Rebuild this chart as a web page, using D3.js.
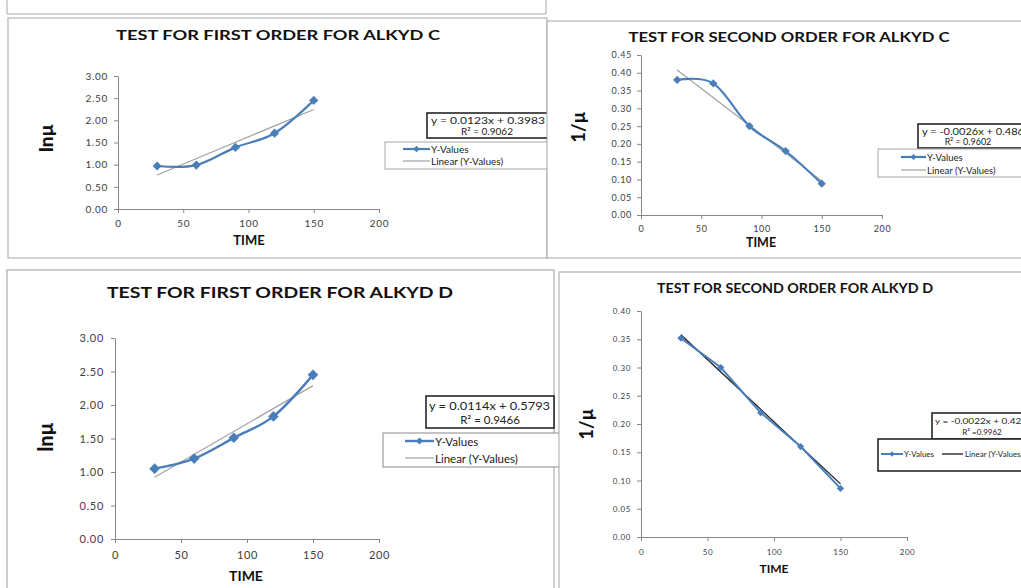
<!DOCTYPE html>
<html><head><meta charset="utf-8">
<script src="https://cdn.jsdelivr.net/npm/d3@7"></script>
<style>body{margin:0;background:#fff}svg{display:block}text{font-family:Lato,"Open Sans",sans-serif}</style>
</head><body>
<svg id="c" width="1021" height="588"></svg>
<script>
// ---- data ----
const timeValues = [30, 60, 90, 120, 150];
const xTicks = [0, 50, 100, 150, 200];
const alkydCFirst = [0.97, 0.99, 1.39, 1.71, 2.45];
const alkydCSecond = [0.38, 0.37, 0.25, 0.18, 0.088];
const alkydDFirst = [1.05, 1.20, 1.51, 1.83, 2.45];
const alkydDSecond = [0.352, 0.30, 0.22, 0.16, 0.086];
const firstOrderTicks = [0, 0.5, 1.0, 1.5, 2.0, 2.5, 3.0];
const secondOrderCTicks = [0, 0.05, 0.10, 0.15, 0.20, 0.25, 0.30, 0.35, 0.40, 0.45];
const secondOrderDTicks = [0, 0.05, 0.10, 0.15, 0.20, 0.25, 0.30, 0.35, 0.40];
const trendC1 = [0.0123, 0.3983]; // slope, intercept
const trendC2 = [-0.0026, 0.486];
const trendD1 = [0.0114, 0.5793];
const trendD2 = [-0.0022, 0.424];
const titles = ["TEST FOR FIRST ORDER FOR ALKYD C", "TEST FOR SECOND ORDER FOR ALKYD C",
                "TEST FOR FIRST ORDER FOR ALKYD D", "TEST FOR SECOND ORDER FOR ALKYD D"];
const eqTexts = ["y = 0.0123x + 0.3983", "y = -0.0026x + 0.486", "y = 0.0114x + 0.5793", "y = -0.0022x + 0.424"];
const r2Texts = ["R² = 0.9062", "R² = 0.9602", "R² = 0.9466", "R² =0.9962"];
const seriesName = "Y-Values";
const trendName = "Linear (Y-Values)";

const svg = d3.select("#c");
const BLUE = "#4a7ebb";

// top fragment of a previous frame
svg.append("path").attr("d","M7,0V14H546V0").attr("fill","none").attr("stroke","#a6a6a6").attr("stroke-width",1);

function diamond(area) {
  return d3.symbol(d3.symbolSquare, area)();
}

function panel(c) {
  const g = svg.append("g");
  g.append("rect").attr("x", c.frame[0]).attr("y", c.frame[1]).attr("width", c.frame[2]).attr("height", c.frame[3])
    .attr("fill", "#fff").attr("stroke", c.frameColor || "#a6a6a6").attr("stroke-width", 1);
  const x = d3.scaleLinear().domain([0, 200]).range([c.x0, c.x1]);
  const y = d3.scaleLinear().domain([0, c.yMax]).range([c.yB, c.yT]);

  const ya = g.append("g").attr("transform", `translate(${c.x0},0)`)
    .call(d3.axisLeft(y).tickValues(c.yTicks).tickFormat(d3.format(".2f")).tickSize(4).tickSizeOuter(0).tickPadding(c.yPad));
  const xa = g.append("g").attr("transform", `translate(0,${c.yB})`)
    .call(d3.axisBottom(x).tickValues(xTicks).tickFormat(d3.format("d")).tickSize(4).tickSizeOuter(0).tickPadding(c.xPad));
  [ya, xa].forEach(a => {
    a.select(".domain").attr("stroke", "#868686");
    a.selectAll(".tick line").attr("stroke", "#868686");
    a.selectAll(".tick text").attr("fill", "#404040").attr("font-size", c.tickFs)
      .attr("letter-spacing", c.tickLs).style("font-family", "Lato, sans-serif");
  });

  // trendline
  const ext = d3.extent(timeValues);
  g.append("path").datum(ext)
    .attr("d", d3.line().x(d => x(d)).y(d => y(c.trend[0] * d + c.trend[1])))
    .attr("stroke", c.trendColor).attr("stroke-width", c.trendW).attr("fill", "none");

  // series
  const pts = timeValues.map((t, i) => [t, c.values[i]]);
  g.append("path").datum(pts)
    .attr("d", d3.line().x(d => x(d[0])).y(d => y(d[1])).curve(c.smooth ? d3.curveCatmullRom.alpha(0) : d3.curveLinear))
    .attr("stroke", BLUE).attr("stroke-width", c.lineW).attr("fill", "none");
  g.selectAll(".m").data(pts).enter().append("path")
    .attr("transform", d => `translate(${x(d[0])},${y(d[1])}) rotate(45)`)
    .attr("d", diamond(c.mSize))
    .attr("fill", BLUE);

  // title
  g.append("text").attr("x", c.title[0]).attr("y", c.title[1]).attr("text-anchor", "middle")
    .attr("dominant-baseline", "central").attr("font-weight", "bold").attr("font-size", c.titleFs)
    .attr("fill", "#111").attr("textLength", c.titleW).attr("lengthAdjust", "spacingAndGlyphs").text(c.titleText);
  // y label
  g.append("text").attr("transform", `translate(${c.ylab[0]},${c.ylab[1]}) rotate(-90)`)
    .attr("text-anchor", "middle").attr("dominant-baseline", "central").attr("font-weight", "900")
    .attr("font-size", c.ylabFs).attr("fill", "#111").text(c.ylabText);
  // x label
  g.append("text").attr("x", c.xlab[0]).attr("y", c.xlab[1]).attr("text-anchor", "middle")
    .attr("dominant-baseline", "central").attr("font-weight", "bold").attr("font-size", c.xlabFs)
    .attr("fill", "#111").text("TIME");

  // equation box
  const eb = c.eqBox;
  g.append("rect").attr("x", eb[0]).attr("y", eb[1]).attr("width", eb[2]).attr("height", eb[3])
    .attr("fill", "#fff").attr("stroke", "#262626").attr("stroke-width", 1.6);
  g.append("text").attr("x", c.eq1[0]).attr("y", c.eq1[1]).attr("dominant-baseline", "central")
    .attr("font-size", c.eqFs).attr("fill", "#222").attr("textLength", c.eq1W).attr("lengthAdjust", "spacingAndGlyphs").text(c.eqText);
  g.append("text").attr("x", c.eq2[0]).attr("y", c.eq2[1]).attr("text-anchor", "middle").attr("dominant-baseline", "central")
    .attr("font-size", c.eqFs).attr("fill", "#222").text(c.r2Text);

  // legend
  const lb = c.legBox;
  g.append("rect").attr("x", lb[0]).attr("y", lb[1]).attr("width", lb[2]).attr("height", lb[3])
    .attr("fill", "#fff").attr("stroke", c.legStroke).attr("stroke-width", c.legSW);
  const L = c.leg;
  g.append("line").attr("x1", L.s[0]).attr("x2", L.s[1]).attr("y1", L.s[2]).attr("y2", L.s[2])
    .attr("stroke", BLUE).attr("stroke-width", c.lineW);
  g.append("path").attr("transform", `translate(${(L.s[0] + L.s[1]) / 2},${L.s[2]}) rotate(45)`)
    .attr("d", diamond(c.legM)).attr("fill", BLUE);
  g.append("text").attr("x", L.st[0]).attr("y", L.st[1]).attr("dominant-baseline", "central")
    .attr("font-size", c.legFs).attr("fill", "#222").text(seriesName);
  g.append("line").attr("x1", L.t[0]).attr("x2", L.t[1]).attr("y1", L.t[2]).attr("y2", L.t[2])
    .attr("stroke", c.trendColor).attr("stroke-width", c.trendW);
  g.append("text").attr("x", L.tt[0]).attr("y", L.tt[1]).attr("dominant-baseline", "central")
    .attr("font-size", c.legFs).attr("fill", "#222").text(trendName);
}

panel({
  frame: [8, 18, 539, 240], x0: 118, x1: 379, yT: 76, yB: 209, yMax: 3, yTicks: firstOrderTicks,
  yPad: 6, xPad: 7, tickFs: 10, tickLs: 0.7, values: alkydCFirst, trend: trendC1, trendColor: "#a0a0a0", trendW: 1.2,
  smooth: true, lineW: 2.2, mSize: 42,
  title: [278, 34], titleFs: 14, titleW: 324, titleText: titles[0],
  ylab: [45, 138], ylabFs: 19, ylabText: "lnµ", xlab: [249, 240], xlabFs: 13,
  eqBox: [427, 113, 121, 25], eq1: [431, 120], eq1W: 114, eq2: [487, 131], eqFs: 10, eqText: eqTexts[0], r2Text: r2Texts[0],
  legBox: [385, 142, 163, 27], legStroke: "#a6a6a6", legSW: 1, legFs: 10, legM: 22,
  leg: { s: [403, 430, 149], st: [431, 149], t: [403, 430, 161], tt: [431, 161] }
});

panel({
  frame: [547, 21, 480, 237], x0: 641, x1: 882, yT: 55, yB: 215, yMax: 0.45, yTicks: secondOrderCTicks,
  yPad: 5, xPad: 7, tickFs: 9, tickLs: 0.7, values: alkydCSecond, trend: trendC2, trendColor: "#a0a0a0", trendW: 1.2,
  smooth: true, lineW: 2.2, mSize: 34,
  title: [789, 37], titleFs: 13.5, titleW: 321, titleText: titles[1],
  ylab: [578, 127], ylabFs: 18, ylabText: "1/µ", xlab: [761, 242], xlabFs: 12.5,
  eqBox: [918, 124, 120, 24], eq1: [922, 131.5], eq1W: 102, eq2: [968, 141.5], eqFs: 9, eqText: eqTexts[1], r2Text: r2Texts[1],
  legBox: [878, 149, 160, 28], legStroke: "#a6a6a6", legSW: 1, legFs: 9.5, legM: 18,
  leg: { s: [901, 926, 157], st: [927, 157], t: [901, 926, 170], tt: [927, 170] }
});

panel({
  frame: [7, 270, 547, 330], frameColor: "#9a9a9a", x0: 115, x1: 379, yT: 338, yB: 539, yMax: 3, yTicks: firstOrderTicks,
  yPad: 7, xPad: 8, tickFs: 11, tickLs: 0.7, values: alkydDFirst, trend: trendD1, trendColor: "#a0a0a0", trendW: 1.2,
  smooth: true, lineW: 2.4, mSize: 56,
  title: [280, 291], titleFs: 16, titleW: 346, titleText: titles[2],
  ylab: [45, 437], ylabFs: 20, ylabText: "lnµ", xlab: [246, 575], xlabFs: 14,
  eqBox: [426, 396, 128, 32], eq1: [429, 405], eq1W: 121, eq2: [490, 419], eqFs: 11.5, eqText: eqTexts[2], r2Text: r2Texts[2],
  legBox: [383, 433, 180, 34], legStroke: "#8a8a8a", legSW: 1, legFs: 11.5, legM: 26,
  leg: { s: [405, 434, 441], st: [435, 441], t: [405, 434, 458], tt: [435, 458] }
});

panel({
  frame: [559, 272, 470, 330], x0: 641, x1: 907, yT: 311, yB: 537, yMax: 0.40, yTicks: secondOrderDTicks,
  yPad: 6, xPad: 8, tickFs: 8, tickLs: 0.6, values: alkydDSecond, trend: trendD2, trendColor: "#1a1a1a", trendW: 1.3,
  smooth: false, lineW: 2, mSize: 26,
  title: [795, 288], titleFs: 12.5, titleW: 276, titleText: titles[3],
  ylab: [586, 424], ylabFs: 18, ylabText: "1/µ", xlab: [774, 568], xlabFs: 12,
  eqBox: [932, 413, 100, 26], eq1: [935, 421], eq1W: 92, eq2: [982, 432], eqFs: 8, eqText: eqTexts[3], r2Text: r2Texts[3],
  legBox: [878, 439, 150, 32], legStroke: "#262626", legSW: 1.6, legFs: 8, legM: 14,
  leg: { s: [881, 903, 454], st: [904, 454], t: [942, 963, 454], tt: [965, 454] }
});
</script>
</body></html>
